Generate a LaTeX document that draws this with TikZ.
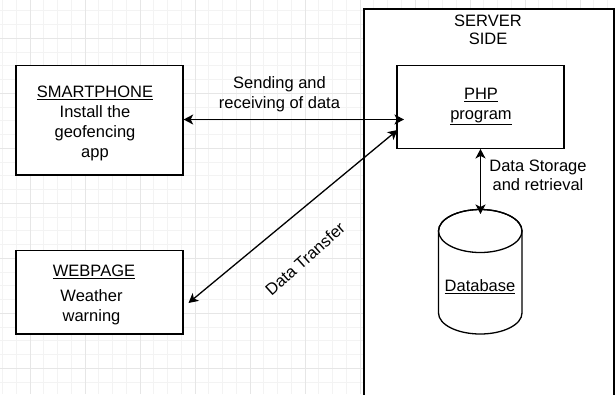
\documentclass[tikz,border=0pt]{standalone}
\usepackage{fontspec}
\setmainfont{Liberation Sans}
\usetikzlibrary{arrows.meta}
\definecolor{gridminor}{HTML}{F3F3F3}
\definecolor{gridmajor}{HTML}{E6E6E6}
\begin{document}
\begin{tikzpicture}[x=1pt,y=-1pt,
  box/.style={draw, line width=1.3pt, fill=white, inner sep=0},
  lbl/.style={font=\fontsize{16.5}{19.5}\selectfont, align=center, inner sep=0},
  conn/.style={line width=1.3pt, {Stealth[length=9.5pt,width=10pt,inset=2.5pt]}-{Stealth[length=9.5pt,width=10pt,inset=2.5pt]}}]
\useasboundingbox (0,0) rectangle (615,394);
% background grid
\foreach \i in {0,...,45} \draw[gridminor, line width=0.7pt] ({2.5+13.75*\i},0) -- ({2.5+13.75*\i},394);
\foreach \i in {0,...,29} \draw[gridminor, line width=0.7pt] (0,{10.8+13.75*(\i-1)}) -- (615,{10.8+13.75*(\i-1)});
\foreach \i in {0,...,11} \draw[gridmajor, line width=0.8pt] ({30+55*\i},0) -- ({30+55*\i},394);
\foreach \i in {0,...,6} \draw[gridmajor, line width=0.8pt] (0,{38.3+55*\i}) -- (615,{38.3+55*\i});
% server container
\draw[line width=1.3pt, fill=white] (364,400) -- (364,9) -- (614,9) -- (614,400);
\node[lbl, font=\fontsize{16.5}{18.6}\selectfont] (serverlabel) at (488,30) {SERVER\\SIDE};
% boxes
\node[box, minimum width=167, minimum height=109.5] (smart) at (99.5,120.25) {};
\node[lbl, font=\fontsize{16.5}{20}\selectfont] (smarttext) at (95,123.3) {\underline{SMARTPHONE}\\Install the\\geofencing\\app};
\node[box, minimum width=167, minimum height=82.6] (php) at (480.5,107) {};
\node[lbl] (phptext) at (481,106.4) {\underline{PHP}\\\underline{program}};
\node[box, minimum width=167, minimum height=83.3] (web) at (99.4,292.4) {};
\node[lbl] (webtitle) at (94,271.7) {\underline{WEBPAGE}};
\node[lbl] (webtext) at (91.5,307.2) {Weather\\warning};
% database cylinder
\node[inner sep=0, minimum width=83.5, minimum height=124.5] (db) at (480.25,271.75) {};
\draw[line width=1.3pt, fill=white] (438.5,231) -- (438.5,313)
  arc[start angle=180, end angle=360, x radius=41.75pt, y radius=21pt] -- (522,231)
  arc[start angle=0, end angle=180, x radius=41.75pt, y radius=21.5pt];
\draw[line width=1.3pt] (480.25,231) ellipse[x radius=41.75pt, y radius=21.5pt];
\node[lbl] (dbtext) at (480,286.7) {\underline{Database}};
% connectors
\coordinate (phpL) at (404,119.5);
\coordinate (phpD) at (397.5,130);
\coordinate (webD) at (188.5,303);
\coordinate (dbT) at (480.5,214);
\draw[conn] (smart.east |- phpL) -- (phpL);
\draw[conn] (phpD) -- (webD);
\draw[conn] (php.south) -- (dbT);
% connector labels
\node[lbl] (lblsend) at (279.5,94) {Sending and\\receiving of data};
\node[lbl] (lblstore) at (538,175.5) {Data Storage\\and retrieval};
\node[lbl, rotate=42] (lbltransfer) at (305,259) {Data Transfer};
\end{tikzpicture}
\end{document}
